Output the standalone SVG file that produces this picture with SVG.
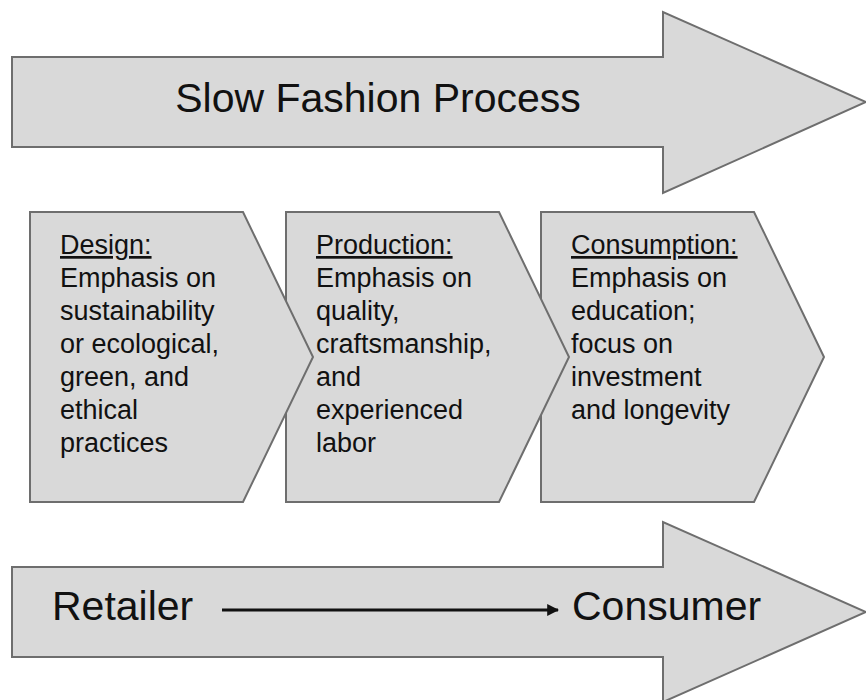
<svg xmlns="http://www.w3.org/2000/svg" width="866" height="700" viewBox="0 0 866 700">
<style>
.shape{fill:#d9d9d9;stroke:#6e6e6e;stroke-width:2;stroke-linejoin:miter}
text{font-family:"Liberation Sans",Arial,sans-serif;fill:#111}
.big{font-size:41px}
.body{font-size:27px}
.head{text-decoration:underline}
</style>
<defs>
<marker id="ah" viewBox="0 0 10 10" refX="9" refY="5" markerWidth="4" markerHeight="4" orient="auto" markerUnits="strokeWidth">
<path d="M0,0 L10,5 L0,10 z" fill="#111"/>
</marker>
</defs>
<rect width="866" height="700" fill="#ffffff"/>
<g id="top-arrow">
<path class="shape" d="M12,57 H663 V12 L866,102 L663,193 V147 H12 Z"/>
<text class="big" x="378" y="112" text-anchor="middle">Slow Fashion Process</text>
</g>
<g id="consumption">
<path class="shape" d="M541,212 H754 L824,357 L754,502 H541 Z"/>
<text class="body" x="571"><tspan class="head" x="571" y="254">Consumption:</tspan><tspan x="571" y="287">Emphasis on</tspan><tspan x="571" y="320">education;</tspan><tspan x="571" y="353">focus on</tspan><tspan x="571" y="386">investment</tspan><tspan x="571" y="419">and longevity</tspan></text>
</g>
<g id="production">
<path class="shape" d="M286,212 H499 L569,357 L499,502 H286 Z"/>
<text class="body" x="316"><tspan class="head" x="316" y="254">Production:</tspan><tspan x="316" y="287">Emphasis on</tspan><tspan x="316" y="320">quality,</tspan><tspan x="316" y="353">craftsmanship,</tspan><tspan x="316" y="386">and</tspan><tspan x="316" y="419">experienced</tspan><tspan x="316" y="452">labor</tspan></text>
</g>
<g id="design">
<path class="shape" d="M30,212 H243 L313,357 L243,502 H30 Z"/>
<text class="body" x="60"><tspan class="head" x="60" y="254">Design:</tspan><tspan x="60" y="287">Emphasis on</tspan><tspan x="60" y="320">sustainability</tspan><tspan x="60" y="353">or ecological,</tspan><tspan x="60" y="386">green, and</tspan><tspan x="60" y="419">ethical</tspan><tspan x="60" y="452">practices</tspan></text>
</g>
<g id="bottom-arrow">
<path class="shape" d="M12,567 H663 V522 L866,612 L663,702 V657 H12 Z"/>
<text class="big" x="52" y="620">Retailer</text>
<text class="big" x="572" y="620">Consumer</text>
</g>
<g id="connectors">
<line x1="222" y1="610" x2="558" y2="610" stroke="#111" stroke-width="3" marker-end="url(#ah)"/>
</g>
</svg>
